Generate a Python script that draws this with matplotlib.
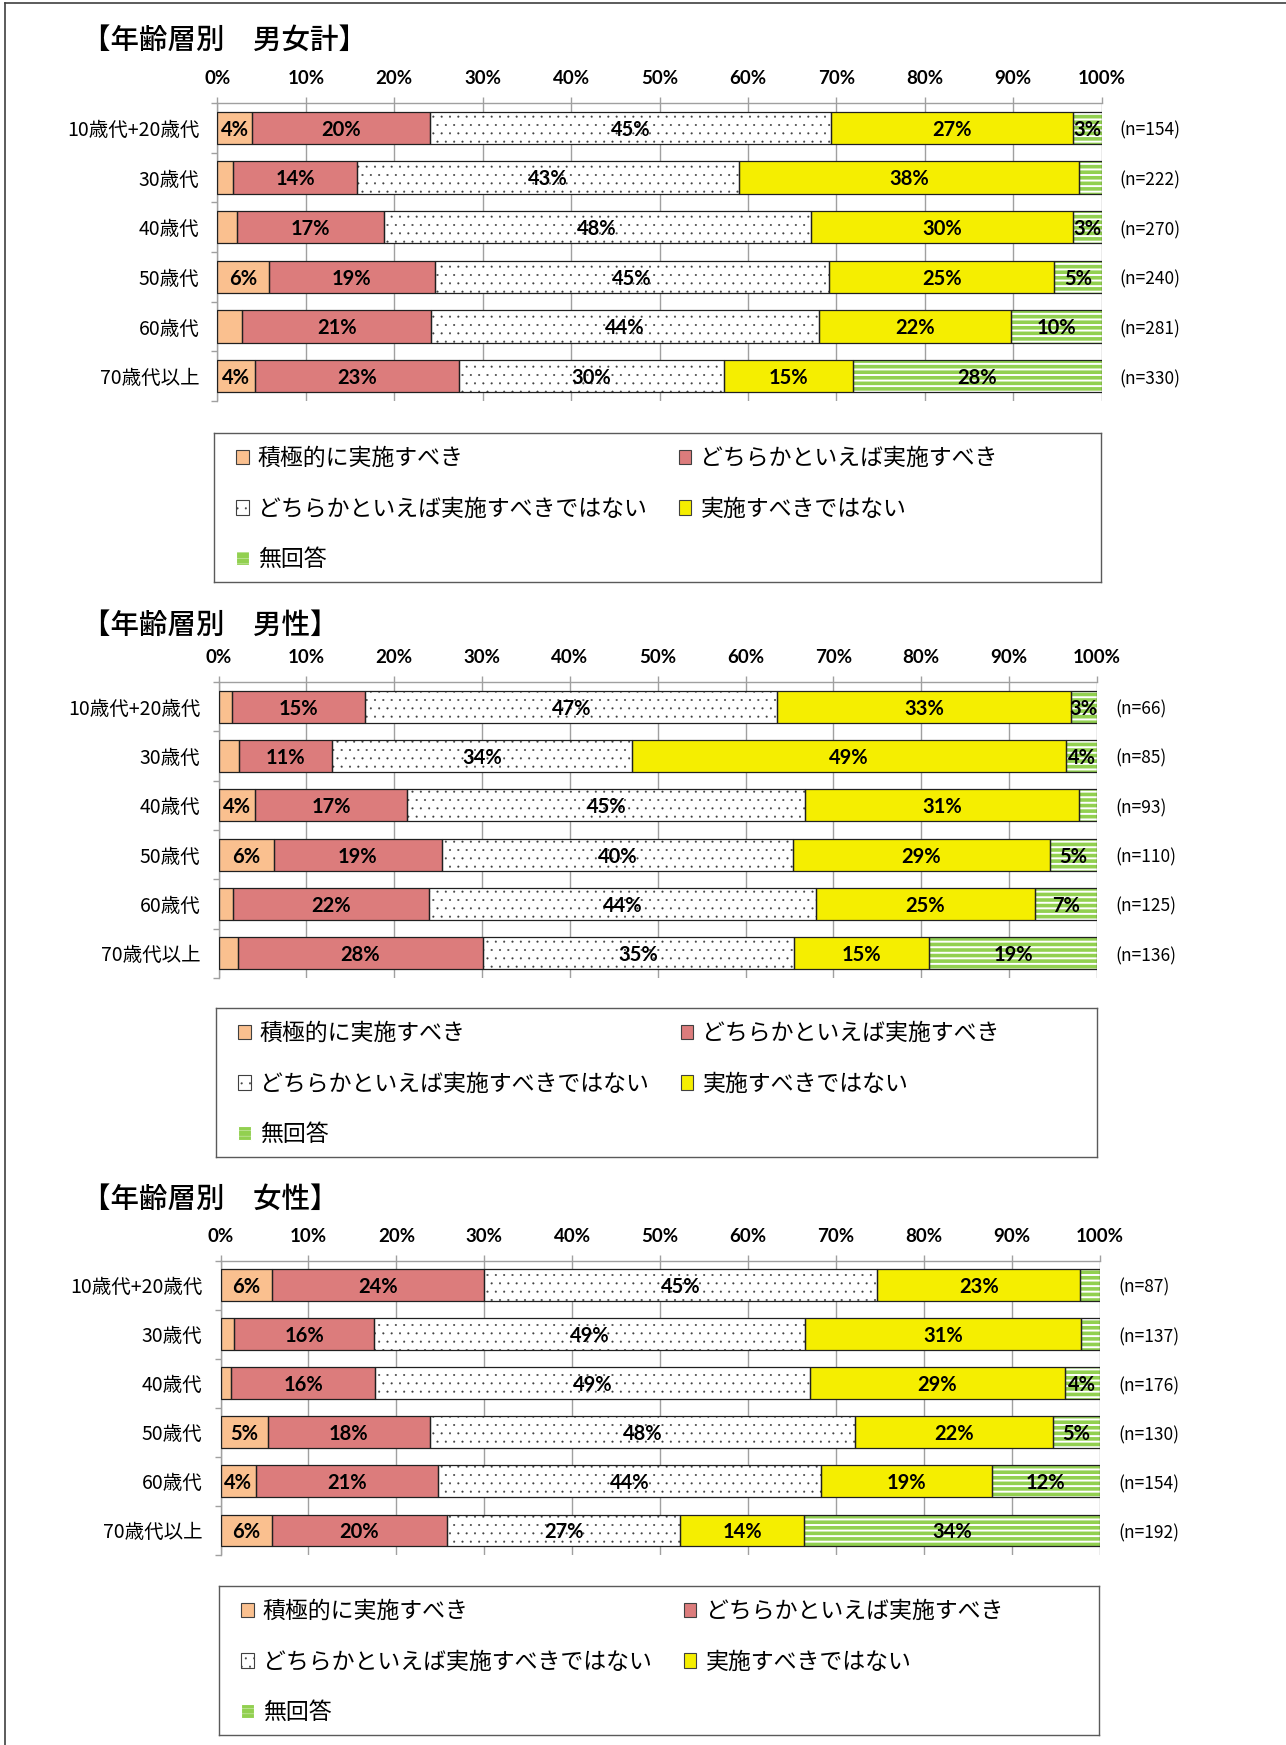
import matplotlib.pyplot as plt
from matplotlib.patches import Rectangle
from matplotlib.lines import Line2D

plt.rcParams['font.family'] = ['Noto Sans CJK JP', 'DejaVu Sans']
plt.rcParams['hatch.linewidth'] = 0.25

W, H = 1286, 1745
DPI = 100

ages = ['10歳代+20歳代', '30歳代', '40歳代', '50歳代', '60歳代', '70歳代以上']
answers = ['積極的に実施すべき', 'どちらかといえば実施すべき',
           'どちらかといえば実施すべきではない', '実施すべきではない', '無回答']

# 男女計 (%)
total_pos = [3.9, 1.8, 2.2, 5.8, 2.8, 4.3]
total_lean_pos = [20.1, 14.0, 16.6, 18.8, 21.4, 23.0]
total_lean_neg = [45.4, 43.2, 48.3, 44.6, 43.8, 30.0]
total_neg = [27.4, 38.4, 29.7, 25.4, 21.7, 14.6]
total_na = [3.2, 2.6, 3.2, 5.4, 10.3, 28.1]
total_n = [154, 222, 270, 240, 281, 330]

# 男性 (%)
male_pos = [1.5, 2.3, 4.2, 6.3, 1.6, 2.2]
male_lean_pos = [15.2, 10.6, 17.3, 19.1, 22.4, 27.9]
male_lean_neg = [46.9, 34.2, 45.3, 40.0, 44.0, 35.4]
male_neg = [33.4, 49.4, 31.1, 29.2, 24.9, 15.4]
male_na = [3.0, 3.5, 2.1, 5.4, 7.1, 19.1]
male_n = [66, 85, 93, 110, 125, 136]

# 女性 (%)
female_pos = [5.8, 1.5, 1.2, 5.4, 4.0, 5.8]
female_lean_pos = [24.2, 16.0, 16.4, 18.4, 20.7, 19.9]
female_lean_neg = [44.7, 49.0, 49.4, 48.4, 43.6, 26.6]
female_neg = [23.0, 31.3, 29.0, 22.4, 19.4, 14.0]
female_na = [2.3, 2.2, 4.0, 5.4, 12.3, 33.7]
female_n = [87, 137, 176, 130, 154, 192]

# segment styles: face, hatch colour, hatch, hatch line width
styles = [
    dict(face='#FAC08F', hc='#404040', hatch=None, hlw=0.25),
    dict(face='#DC7C7C', hc='#404040', hatch=None, hlw=0.25),
    dict(face='white', hc='#404040', hatch='..', hlw=0.25),
    dict(face='#F5EE00', hc='#404040', hatch=None, hlw=0.25),
    dict(face='#92D050', hc='white', hatch='---', hlw=1.4),
]

GRID = '#A0A0A0'
PCT_FONT = dict(family=['Lato', 'DejaVu Sans'], weight='bold')


def px_box(x0, y0, x1, y1):
    return [x0 / W, 1 - y1 / H, (x1 - x0) / W, (y1 - y0) / H]


def set_hlw(patches, lw):
    for p in patches:
        if hasattr(p, 'set_hatch_linewidth'):
            p.set_hatch_linewidth(lw)


def draw_panel(ax, parts, n_values):
    y = list(range(len(ages)))
    left = [0.0] * len(ages)
    for vals, st in zip(parts, styles):
        bars = ax.barh(y, vals, left=left, height=0.65, color=st['face'],
                       edgecolor=st['hc'], hatch=st['hatch'], linewidth=0,
                       zorder=2)
        if st['hatch']:
            set_hlw(bars, st['hlw'])
        ax.barh(y, vals, left=left, height=0.65, fill=False,
                edgecolor='#202020', linewidth=0.9, zorder=3)
        for yi, l, v in zip(y, left, vals):
            if v >= 3:
                ax.text(l + v / 2, yi, f'{round(v)}%', ha='center',
                        va='center_baseline', fontsize=14.5, zorder=4,
                        **PCT_FONT)
        left = [a + b for a, b in zip(left, vals)]

    for yi, n in zip(y, n_values):
        ax.annotate(f'(n={n})', xy=(1, yi), xycoords=('axes fraction', 'data'),
                    xytext=(13, -2), textcoords='offset points',
                    va='center', ha='left', fontsize=12.5)

    ax.set_xlim(0, 100)
    ax.set_ylim(len(ages) - 0.5, -0.5)
    ax.xaxis.tick_top()
    ax.set_xticks(range(0, 101, 10))
    ax.set_xticklabels([f'{t}%' for t in range(0, 101, 10)], fontsize=13.5,
                       **PCT_FONT)
    ax.tick_params(axis='x', length=4.5, color=GRID, width=1, pad=7)
    ax.set_yticks(y)
    ax.set_yticklabels(ages, fontsize=14)
    ax.set_yticks([i - 0.5 for i in range(len(ages) + 1)], minor=True)
    ax.tick_params(axis='y', which='major', length=0, pad=13)
    ax.tick_params(axis='y', which='minor', length=4.5, color=GRID, width=1)
    ax.grid(axis='x', color=GRID, linewidth=1)
    ax.set_axisbelow(True)
    for s in ('right', 'bottom'):
        ax.spines[s].set_visible(False)
    for s in ('top', 'left'):
        ax.spines[s].set_color(GRID)
        ax.spines[s].set_linewidth(1)


def draw_legend(fig, box, anchor):
    lax = fig.add_axes(px_box(*box))
    lax.set_xticks([])
    lax.set_yticks([])
    for s in lax.spines.values():
        s.set_color('#5A5A5A')
        s.set_linewidth(1)
    handles = []
    for st in styles:
        h = Rectangle((0, 0), 1, 1, facecolor=st['face'],
                      edgecolor=st['hc'] if st['hatch'] else '#404040',
                      hatch=st['hatch'], linewidth=0.8)
        if st['hatch']:
            set_hlw([h], st['hlw'])
        handles.append(h)
    order = [0, 2, 4, 1, 3]
    lax.legend([handles[i] for i in order], [answers[i] for i in order],
               ncol=2, loc='upper left', frameon=False,
               bbox_to_anchor=(anchor[0] / W, 1 - anchor[1] / H),
               bbox_transform=fig.transFigure, borderpad=0, borderaxespad=0,
               fontsize=16.5, handlelength=0.55, handleheight=0.6,
               handletextpad=0.4, columnspacing=1.4, labelspacing=1.2)


fig = plt.figure(figsize=(W / DPI, H / DPI), dpi=DPI)

panels = [
    ('【年齢層別　男女計】', 40,
     [total_pos, total_lean_pos, total_lean_neg, total_neg, total_na], total_n,
     (217.4, 103, 1101.7, 401), (214, 433, 1101, 582), (236, 447)),
    ('【年齢層別　男性】', 625,
     [male_pos, male_lean_pos, male_lean_neg, male_neg, male_na], male_n,
     (218.5, 682, 1097, 978), (216, 1008, 1097, 1157), (238, 1022)),
    ('【年齢層別　女性】', 1199,
     [female_pos, female_lean_pos, female_lean_neg, female_neg, female_na], female_n,
     (220.5, 1260.5, 1100, 1555), (219, 1586, 1099, 1735), (241, 1600)),
]

for title, ty, parts, n_values, ax_box, leg_box, anchor in panels:
    fig.text(82 / W, 1 - ty / H, title, fontsize=20.5, fontweight='medium',
             va='center', ha='left')
    ax = fig.add_axes(px_box(*ax_box))
    draw_panel(ax, parts, n_values)
    draw_legend(fig, leg_box, anchor)

# page frame
fig.add_artist(Line2D([5 / W, 1], [1 - 3 / H, 1 - 3 / H], color='#404040',
                      linewidth=1.2, transform=fig.transFigure))
fig.add_artist(Line2D([5 / W, 5 / W], [0, 1 - 3 / H], color='#404040',
                      linewidth=1.2, transform=fig.transFigure))

fig.savefig('out.png', dpi=DPI)
